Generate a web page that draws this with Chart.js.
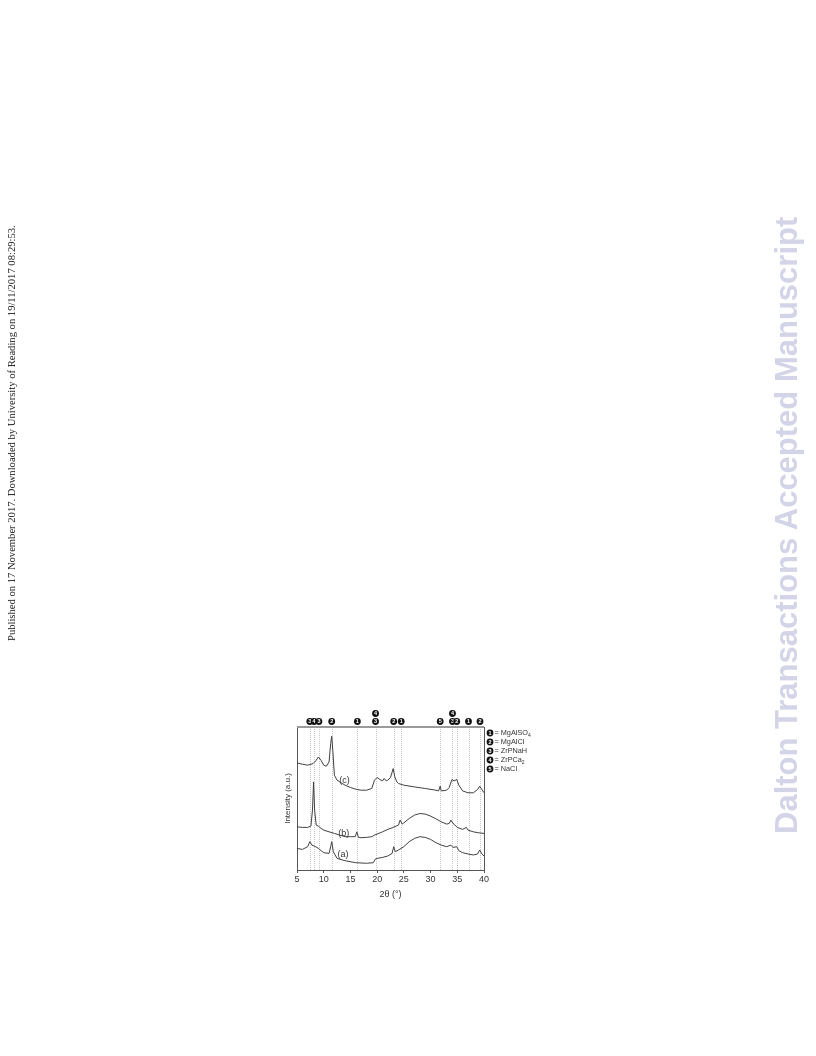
<!DOCTYPE html>
<html><head><meta charset="utf-8">
<script src="https://cdn.jsdelivr.net/npm/chart.js@4/dist/chart.umd.min.js"></script>
<style>
html,body{margin:0;padding:0;background:#fff;width:816px;height:1056px;overflow:hidden;position:relative;}
#wrap{position:absolute;left:0;top:0;width:816px;height:1056px;}
.side{position:absolute;white-space:nowrap;transform-origin:0 0;transform:rotate(-90deg);line-height:1;}
#pub{left:7px;top:641px;font-family:"Liberation Serif","Times New Roman",serif;font-size:10.6px;color:#222;}
#dal{left:771px;top:834px;font-family:"Liberation Sans",Arial,sans-serif;font-weight:bold;font-size:31px;color:#d4d4e8;}
</style></head>
<body>
<div id="wrap"><canvas id="c" width="816" height="1056"></canvas></div>
<div id="pub" class="side">Published on 17 November 2017. Downloaded by University of Reading on 19/11/2017 08:29:53.</div>
<div id="dal" class="side">Dalton Transactions Accepted Manuscript</div>
<script>
// ---- data ----
const xTicks = [5, 10, 15, 20, 25, 30, 35, 40];
const cX = [5,6,7,8,8.5,9,9.5,10,10.5,11,11.3,11.5,11.7,12,12.5,13,14,15,16,17,18,19,19.5,20,20.5,21,21.3,21.7,22,22.5,23,23.3,23.7,24,25,27,29,31,31.5,31.8,32,33,33.5,34,34.4,34.9,35.3,36,37,38,38.8,39.2,39.6,40];
const cY = [74.9,74,73.3,74.4,76.3,79,76.7,73.3,72.6,75.6,88.4,93.5,83.7,66.3,62.8,61.6,59.3,57.7,56.5,55.8,55.8,57,62.8,64.7,63.3,62.3,64,62.3,62.8,64.7,70.9,65.1,61.6,60.5,59.3,58.1,57,55.8,55.3,58.6,55.3,55.8,57.7,63.3,62.3,63.3,59.3,55.3,54,54,56.3,58.6,56.3,54];
const bX = [5,6,7,7.6,7.9,8.1,8.3,8.6,9,9.5,10,11,12,13,14,15,15.9,16.2,16.5,17,18,19,19.5,20,21,22,23,24,24.3,24.7,25,26,27,28,29,30,31,32,33,33.5,33.8,34.2,35,36,36.7,37,38,39,40];
const bY = [30.2,29.8,29.8,30.7,41.9,61.6,41.9,31.4,30.7,29.1,27.9,26.7,25.6,24.4,23.3,23.3,23.3,26.7,22.8,22.6,22.8,23.3,24.4,25.1,26.7,28.4,29.8,31.4,34.9,32.1,33,36,38.4,39.5,39.1,37.7,35.8,33.7,32.1,32.6,34.9,32.6,29.8,28.4,29.8,27.9,26.7,26,25.6];
const aX = [5,6,7,7.4,7.8,8.5,9,10,11,11.3,11.5,11.8,12.5,14,16,18,19.3,19.6,20,21,22,22.8,23.1,23.4,24,25,26,27,28,29,30,31,32,33,33.8,34.2,34.9,35.3,36,37,38,38.8,39.2,39.6,40];
const aY = [15.1,14.4,16.3,19.8,17.4,16.3,15.1,12.1,11.6,16.3,19.8,12.8,8.1,6.5,5.1,4.7,5.1,7.4,8.1,8.8,9.8,11.6,16.3,12.8,14,16.3,19.8,22.1,23.3,22.8,21.4,19.1,17.4,16.3,17.4,15.8,16.3,13.5,12.1,11.2,10.5,11.2,14,11.2,9.8];
const curveNames = ['(a)', '(b)', '(c)'];
const curveLabelX = [13.6, 13.75, 13.9];
const curveLabelY = [10.5, 25.6, 62.8];
const refLines = [7.4, 8.2, 9.1, 11.5, 16.3, 19.7, 23.1, 24.5, 31.8, 34.1, 34.9, 37.1, 39.25];
const refMarks = ['3', '4', '3', '2', '1', '3', '2', '1', '5', '3', '2', '1', '2'];
const refUpper = ['', '', '', '', '', '4', '', '', '', '4', '', '', ''];
const keyNums = ['1', '2', '3', '4', '5'];
const keyNames = ['MgAlSO', 'MgAlCl', 'ZrPNaH', 'ZrPCa', 'NaCl'];
const keySubs = ['4', '', '', '2', ''];

const toPts = (xs, ys) => xs.map((v, i) => ({x: v, y: ys[i]}));
const lineColor = '#404040';

function circ(ctx, cx, cy, n) {
  ctx.beginPath(); ctx.arc(cx, cy, 3.4, 0, Math.PI * 2);
  ctx.fillStyle = '#111'; ctx.fill();
  ctx.fillStyle = '#fff'; ctx.font = 'bold 5.5px "Liberation Sans", Arial';
  ctx.textAlign = 'center'; ctx.textBaseline = 'middle';
  ctx.fillText(n, cx, cy + 0.3);
}

const deco = {
  id: 'deco',
  beforeDatasetsDraw(chart) {
    const {ctx, chartArea: ca, scales: {x}} = chart;
    ctx.save();
    ctx.strokeStyle = '#b0b0b0'; ctx.lineWidth = 0.7; ctx.setLineDash([1, 1]);
    refLines.forEach(v => {
      const px = Math.round(x.getPixelForValue(v)) + 0.5;
      ctx.beginPath(); ctx.moveTo(px, ca.top); ctx.lineTo(px, ca.bottom); ctx.stroke();
    });
    ctx.restore();
  },
  afterDraw(chart) {
    const {ctx, chartArea: ca, scales: {x, y}} = chart;
    ctx.save();
    // frame
    ctx.strokeStyle = '#9a9a9a'; ctx.lineWidth = 2;
    ctx.beginPath(); ctx.moveTo(ca.left, ca.top); ctx.lineTo(ca.right, ca.top); ctx.stroke();
    ctx.strokeStyle = '#555'; ctx.lineWidth = 1;
    ctx.beginPath(); ctx.moveTo(ca.right + 0.5, ca.top); ctx.lineTo(ca.right + 0.5, ca.bottom); ctx.stroke();
    // markers
    refLines.forEach((v, i) => {
      const px = x.getPixelForValue(v);
      circ(ctx, px, ca.top - 5.5, refMarks[i]);
      if (refUpper[i]) circ(ctx, px, ca.top - 13.5, refUpper[i]);
    });
    // key
    keyNums.forEach((n, i) => {
      const cy = ca.top + 6 + i * 9;
      const cx = ca.right + 6;
      circ(ctx, cx, cy, n);
      ctx.fillStyle = '#333'; ctx.textAlign = 'left'; ctx.textBaseline = 'middle';
      ctx.font = '7.3px "Liberation Sans", Arial';
      const t = '= ' + keyNames[i];
      ctx.fillText(t, cx + 4.5, cy);
      if (keySubs[i]) {
        const w = ctx.measureText(t).width;
        ctx.font = '5px "Liberation Sans", Arial';
        ctx.fillText(keySubs[i], cx + 4.5 + w, cy + 2.5);
      }
    });
    // curve labels
    ctx.fillStyle = '#333'; ctx.font = '9px "Liberation Sans", Arial';
    ctx.textAlign = 'center'; ctx.textBaseline = 'middle';
    curveNames.forEach((t, i) => ctx.fillText(t, x.getPixelForValue(curveLabelX[i]), y.getPixelForValue(curveLabelY[i])));
    ctx.restore();
  }
};

const ds = (pts) => ({data: pts, borderColor: lineColor, borderWidth: 1, pointRadius: 0, fill: false, tension: 0});

new Chart(document.getElementById('c'), {
  type: 'line',
  data: {datasets: [ds(toPts(aX, aY)), ds(toPts(bX, bY)), ds(toPts(cX, cY))]},
  options: {
    responsive: false, animation: false,
    layout: {padding: {left: 283, right: 332, top: 727, bottom: 156}},
    plugins: {legend: {display: false}, tooltip: {enabled: false}},
    scales: {
      x: {
        type: 'linear', min: 5, max: 40,
        afterBuildTicks: s => { s.ticks = xTicks.map(v => ({value: v})); },
        afterFit: s => { s.height = 30; },
        ticks: {color: '#333', font: {size: 9, family: '"Liberation Sans", Arial'}, padding: 1, maxRotation: 0},
        grid: {drawOnChartArea: false, drawTicks: true, tickLength: 3, color: '#555'},
        border: {display: true, color: '#555', width: 1},
        title: {display: true, text: '2θ (°)', color: '#333', font: {size: 9, family: '"Liberation Sans", Arial'}, padding: {top: 2, bottom: 0}}
      },
      y: {
        type: 'linear', min: 0, max: 100,
        afterFit: s => { s.width = 14; },
        ticks: {display: false},
        grid: {display: false},
        border: {display: true, color: '#555', width: 1},
        title: {display: true, text: 'Intensity (a.u.)', color: '#333', font: {size: 8, family: '"Liberation Sans", Arial'}, padding: 0}
      }
    }
  },
  plugins: [deco]
});
</script>
</body></html>
